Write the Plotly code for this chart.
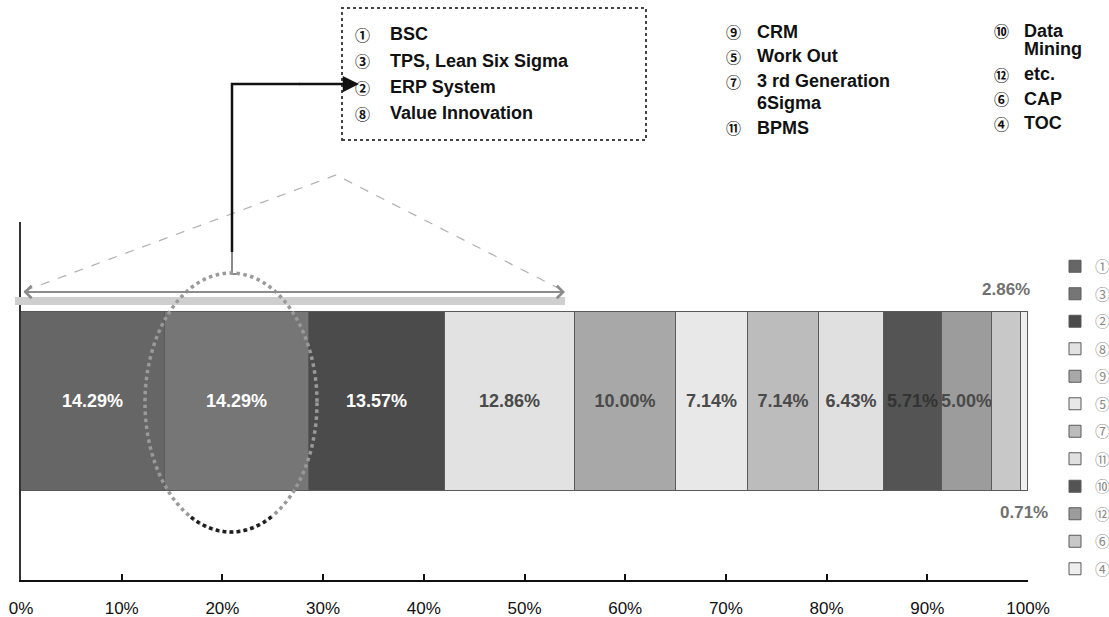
import numpy as np
import plotly.graph_objects as go

# ---- data ---------------------------------------------------------------
codes = ["①", "③", "②", "⑧", "⑨", "⑤", "⑦", "⑪", "⑩", "⑫", "⑥", "④"]
shares = [14.29, 14.29, 13.57, 12.86, 10.00, 7.14, 7.14, 6.43, 5.71, 5.00, 2.86, 0.71]
tick_values = [0, 10, 20, 30, 40, 50, 60, 70, 80, 90, 100]
tick_labels = ["0%", "10%", "20%", "30%", "40%", "50%", "60%", "70%", "80%", "90%", "100%"]

box_codes = ["①", "③", "②", "⑧"]
box_names = ["BSC", "TPS, Lean Six Sigma", "ERP System", "Value Innovation"]
mid_codes = ["⑨", "⑤", "⑦", "⑪"]
mid_names = ["CRM", "Work Out", "3 rd Generation\n6Sigma", "BPMS"]
right_codes = ["⑩", "⑫", "⑥", "④"]
right_names = ["Data\nMining", "etc.", "CAP", "TOC"]

# ---- styling ------------------------------------------------------------
fills = ["#666666", "#767676", "#4b4b4b", "#e2e2e2", "#a8a8a8", "#e8e8e8",
         "#bcbcbc", "#e0e0e0", "#545454", "#9c9c9c", "#c8c8c8", "#eeeeee"]
text_colors = ["#ffffff", "#ffffff", "#ffffff", "#4a4a4a", "#4a4a4a", "#4a4a4a",
               "#4a4a4a", "#4a4a4a", "#333333", "#4a4a4a", "#4a4a4a", "#4a4a4a"]
W, H = 1109, 617
ML, MR, MT, MB = 21, 81, 222, 37
PW, PH = W - ML - MR, H - MT - MB
SANS = "Liberation Sans, Arial, sans-serif"
CIRC = "Noto Sans CJK KR, DejaVu Sans, sans-serif"
outside = {"2.86%": "above", "0.71%": "below"}


def px(x):
    """pixel column -> paper x"""
    return (x - ML) / PW


def py(y):
    """pixel row -> paper y"""
    return (H - MB - y) / PH


fig = go.Figure()
starts = np.concatenate([[0.0], np.cumsum(shares)[:-1]])
for i, (code, v) in enumerate(zip(codes, shares)):
    label = f"{v:.2f}%"
    fig.add_trace(go.Bar(
        y=[0.5], x=[v], orientation="h", width=0.5, name=code,
        legendgroup=code,
        marker=dict(color=fills[i], line=dict(color="#5a5a5a", width=1)),
        text=[label if label not in outside else ""],
        textposition="inside", insidetextanchor="middle", textangle=0,
        constraintext="none", cliponaxis=False,
        textfont=dict(family=SANS, size=18, color=text_colors[i], weight="bold"),
        hoverinfo="skip",
    ))

annotations = []
shapes = []

# labels of the two thin segments, placed above / below the bar
for v, s in zip(shares, starts):
    label = f"{v:.2f}%"
    if label in outside:
        above = outside[label] == "above"
        annotations.append(dict(
            x=s + v / 2, xref="x", y=0.75 + 0.03 if above else 0.25 - 0.03,
            yref="y", text=f"<b>{label}</b>", showarrow=False,
            yanchor="bottom" if above else "top",
            font=dict(family=SANS, size=17, color="#707070")))

# dotted box with the top group
shapes.append(dict(type="rect", xref="paper", yref="paper",
                   x0=px(342), x1=px(646), y0=py(140), y1=py(8),
                   line=dict(color="#444444", width=2, dash="dot")))


def item_column(codes_, names_, x_code, x_text, y0, step, wrap_step, code_size, code_bold):
    y = y0
    for c, n in zip(codes_, names_):
        annotations.append(dict(
            x=px(x_code), y=py(y), xref="paper", yref="paper", text=c,
            showarrow=False, xanchor="center", yanchor="middle",
            font=dict(family=CIRC, size=code_size, color="#111111",
                      weight="bold" if code_bold else "normal")))
        lines = n.split("\n")
        for k, line in enumerate(lines):
            annotations.append(dict(
                x=px(x_text), y=py(y + k * wrap_step), xref="paper", yref="paper",
                text=f"<b>{line}</b>", showarrow=False,
                xanchor="left", yanchor="middle",
                font=dict(family=SANS, size=18, color="#111111")))
        y += step + (len(lines) - 1) * wrap_step


item_column(box_codes, box_names, 362, 388, 34, 26.5, 0, 15, True)
item_column(mid_codes, mid_names, 733, 755, 32, 24.5, 22, 15, True)
item_column(right_codes, right_names, 1001, 1022, 31, 24.5, 18.5, 15, True)

# zoom guide: grey band, double-headed span and dashed roof
shapes.append(dict(type="rect", xref="paper", yref="paper",
                   x0=px(15), x1=px(565), y0=py(305), y1=py(297),
                   line=dict(width=0), fillcolor="#cfcfcf"))
annotations.append(dict(x=px(565), y=py(292), xref="paper", yref="paper",
                        ax=-(565 - 22), ay=0, text="", showarrow=True,
                        arrowside="end+start", arrowhead=4, startarrowhead=4,
                        arrowsize=1.2, startarrowsize=1.2,
                        arrowwidth=2, arrowcolor="#8c8c8c"))
shapes.append(dict(type="path", xref="paper", yref="paper",
                   path=f"M{px(24)},{py(291)} L{px(336)},{py(175)} L{px(564)},{py(291)}",
                   line=dict(color="#b0b0b0", width=1.2, dash="dash")))

# connector from the highlighted segments to the box
shapes.append(dict(type="path", xref="paper", yref="paper",
                   path=f"M{px(232)},{py(252)} L{px(232)},{py(84)} L{px(300)},{py(84)}",
                   line=dict(color="#111111", width=2.5)))
shapes.append(dict(type="path", xref="paper", yref="paper",
                   path=f"M{px(232)},{py(252)} L{px(232)},{py(274)} L{px(238)},{py(274)}",
                   line=dict(color="#8a8a8a", width=2)))
annotations.append(dict(x=px(359), y=py(84), xref="paper", yref="paper",
                        ax=-(359 - 298), ay=0, text="", showarrow=True,
                        arrowhead=2, arrowsize=1.3, arrowwidth=2.5,
                        arrowcolor="#111111"))

# dotted ellipse around the highlighted segments
cx, cy, rx, ry = 231, 402.5, 86, 129.5
shapes.append(dict(type="circle", xref="paper", yref="paper",
                   x0=px(cx - rx), x1=px(cx + rx), y0=py(cy + ry), y1=py(cy - ry),
                   line=dict(color="#9a9a9a", width=3.5, dash="dot")))
t = np.linspace(np.radians(62), np.radians(118), 30)
arc = " L".join(f"{px(cx + rx * np.cos(a)):.5f},{py(cy + ry * np.sin(a)):.5f}" for a in t)
shapes.append(dict(type="path", xref="paper", yref="paper", path="M" + arc,
                   line=dict(color="#1e1e1e", width=3.5, dash="dot")))

fig.update_layout(
    width=W, height=H,
    margin=dict(l=ML, r=MR, t=MT, b=MB, autoexpand=False),
    paper_bgcolor="white", plot_bgcolor="white",
    barmode="stack", bargap=0,
    showlegend=True,
    legend=dict(x=px(1055), y=py(250), xanchor="left", yanchor="top",
                bgcolor="rgba(0,0,0,0)", tracegroupgap=5,
                font=dict(family=CIRC, size=15, color="#8a8a8a"),
                traceorder="grouped"),
    xaxis=dict(range=[0, 100], tickvals=tick_values, ticktext=tick_labels,
               ticks="inside", ticklen=6, tickwidth=1.5, tickcolor="#111111",
               showline=True, linecolor="#111111", linewidth=2,
               showgrid=False, zeroline=False, ticklabelstandoff=12,
               tickfont=dict(family=SANS, size=17, color="#111111")),
    yaxis=dict(range=[0, 1], showticklabels=False, ticks="",
               showline=True, linecolor="#333333", linewidth=2,
               showgrid=False, zeroline=False),
    annotations=annotations,
    shapes=shapes,
)

fig.write_html("out.html")
